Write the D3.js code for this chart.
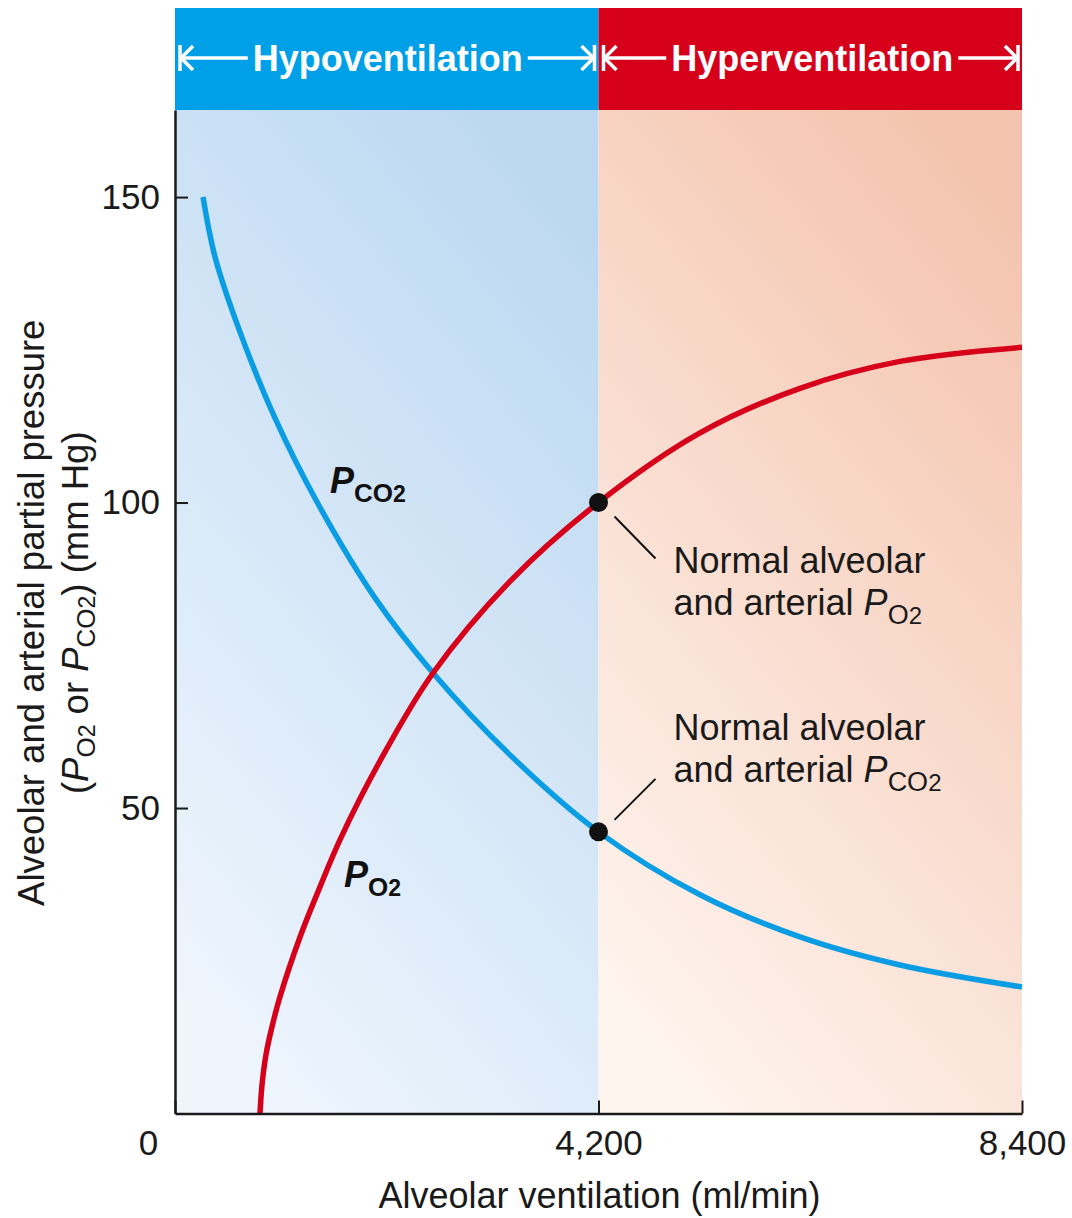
<!DOCTYPE html>
<html>
<head>
<meta charset="utf-8">
<script src="https://cdn.jsdelivr.net/npm/d3@7"></script>
<style>
  html, body { margin: 0; padding: 0; background: #ffffff; }
  svg { display: block; font-family: "Liberation Sans", Arial, Helvetica, sans-serif; }
</style>
</head>
<body>
<svg id="chart" width="1072" height="1218"></svg>
<script>
// ---------- data ----------
const xTicks = [0, 4200, 8400];
const xTickLabels = ["0", "4,200", "8,400"];
const yTicks = [50, 100, 150];
const yTickLabels = ["50", "100", "150"];

const regionNames = ["Hypoventilation", "Hyperventilation"];
const regionStart = [0, 4200];
const regionEnd = [4200, 8400];

// P_CO2 curve (blue)
const pco2X = [278, 397, 645, 992, 1418, 1983, 2559, 3322, 4200, 5207, 6198, 7190, 8400];
const pco2Y = [150, 140.2, 127.9, 113.8, 99.8, 84.4, 72.1, 58.7, 46.1, 35.8, 28.9, 24.3, 20.7];

// P_O2 curve (red)
const po2X = [843, 863, 902, 962, 1041, 1240, 1438, 1636, 2033, 2559, 3322, 4200, 5207, 6198, 7190, 8400];
const po2Y = [0, 4.7, 9.6, 14.2, 19.1, 28.9, 37.1, 44.8, 57.7, 72.1, 87.1, 100, 111.4, 118.7, 123.1, 125.4];

const normalX = [4200, 4200];
const normalY = [100, 46.1];

// ---------- layout ----------
(function () {
const svg = d3.select("#chart");
const pL = 175, pR = 1022, pT = 110, pB = 1113.5;
const x = d3.scaleLinear().domain([0, 8400]).range([pL, pR]);
const y = d3.scaleLinear().domain([0, 164.25]).range([pB, pT]);

const BLUE = "#0a9de3", RED = "#d7001b";

// gradients
const defs = svg.append("defs");
function grad(id, c0, c1) {
  const g = defs.append("linearGradient").attr("id", id)
    .attr("x1", 0.25).attr("y1", 1).attr("x2", 0.75).attr("y2", 0);
  g.append("stop").attr("offset", "0%").attr("stop-color", c0);
  g.append("stop").attr("offset", "100%").attr("stop-color", c1);
}
grad("gBlue", "#eef5fd", "#bcd8f1");
grad("gRed", "#fef4ee", "#f4c4ae");

// background regions
const bgFills = ["url(#gBlue)", "url(#gRed)"];
svg.selectAll("rect.bg").data(regionNames).join("rect")
  .attr("class", "bg")
  .attr("x", (d, i) => x(regionStart[i]))
  .attr("y", pT)
  .attr("width", (d, i) => x(regionEnd[i]) - x(regionStart[i]))
  .attr("height", pB - pT)
  .attr("fill", (d, i) => bgFills[i]);

// header bands
const headFills = ["#00a0e9", RED];
svg.selectAll("rect.head").data(regionNames).join("rect")
  .attr("class", "head")
  .attr("x", (d, i) => x(regionStart[i]))
  .attr("y", 8)
  .attr("width", (d, i) => x(regionEnd[i]) - x(regionStart[i]))
  .attr("height", pT - 8)
  .attr("fill", (d, i) => headFills[i]);

const headY = 58;
regionNames.forEach((name, i) => {
  const x0 = x(regionStart[i]), x1 = x(regionEnd[i]);
  const cx = (x0 + x1) / 2 + (i === 0 ? 1 : 2);
  const t = svg.append("text")
    .attr("x", cx).attr("y", headY + 13)
    .attr("text-anchor", "middle")
    .attr("font-size", 36).attr("font-weight", "bold")
    .attr("fill", "#ffffff")
    .text(name);
  const w = t.node().getComputedTextLength();
  const ts = cx - w / 2 - 5, te = cx + w / 2 + 5;
  const la = x0 + 5, ra = x1 - 4;
  const g = svg.append("g").attr("stroke", "#ffffff").attr("stroke-width", 3.5)
    .attr("fill", "none").attr("stroke-linecap", "butt");
  g.append("line").attr("x1", la).attr("x2", la).attr("y1", headY - 13).attr("y2", headY + 13);
  g.append("line").attr("x1", ra).attr("x2", ra).attr("y1", headY - 13).attr("y2", headY + 13);
  g.append("line").attr("x1", la).attr("x2", ts).attr("y1", headY).attr("y2", headY);
  g.append("line").attr("x1", te).attr("x2", ra).attr("y1", headY).attr("y2", headY);
  g.append("path").attr("d", `M${la + 13},${headY - 12}L${la + 1},${headY}L${la + 13},${headY + 12}`);
  g.append("path").attr("d", `M${ra - 13},${headY - 12}L${ra - 1},${headY}L${ra - 13},${headY + 12}`);
});

// curves
const line = d3.line().x(d => x(d[0])).y(d => y(d[1])).curve(d3.curveCatmullRom.alpha(0.5));
svg.append("path").datum(pco2X.map((v, i) => [v, pco2Y[i]]))
  .attr("d", line).attr("fill", "none").attr("stroke", BLUE).attr("stroke-width", 5.5);
svg.append("path").datum(po2X.map((v, i) => [v, po2Y[i]]))
  .attr("d", line).attr("fill", "none").attr("stroke", RED).attr("stroke-width", 5.5);

// axes
const xAxis = d3.axisBottom(x).tickValues(xTicks)
  .tickFormat((d, i) => xTickLabels[i]).tickSizeInner(-13).tickSizeOuter(0).tickPadding(17);
const gx = svg.append("g").attr("transform", `translate(0,${pB})`).call(xAxis);
gx.selectAll("text").attr("font-size", 35).attr("fill", "#1a1a1a")
  .attr("font-family", "'Liberation Sans', Arial, sans-serif");
gx.selectAll(".tick").each(function (d) {
  d3.select(this).select("text").attr("dx", d === 0 ? -27 : 0);
});
gx.selectAll(".tick line").attr("stroke", "#1a1a1a").attr("stroke-width", 2);
gx.select(".domain").attr("stroke", "#1a1a1a").attr("stroke-width", 2.5);

const yAxis = d3.axisLeft(y).tickValues(yTicks)
  .tickFormat((d, i) => yTickLabels[i]).tickSizeInner(-13).tickSizeOuter(0).tickPadding(15);
const gy = svg.append("g").attr("transform", `translate(${pL},0)`).call(yAxis);
gy.selectAll("text").attr("font-size", 35).attr("fill", "#1a1a1a")
  .attr("font-family", "'Liberation Sans', Arial, sans-serif");
gy.selectAll(".tick line").attr("stroke", "#1a1a1a").attr("stroke-width", 2);
gy.select(".domain").attr("stroke", "#1a1a1a").attr("stroke-width", 2.5);

// x-axis title
svg.append("text").attr("x", (pL + pR) / 2 + 1).attr("y", 1208)
  .attr("text-anchor", "middle").attr("font-size", 36).attr("fill", "#1a1a1a")
  .text("Alveolar ventilation (ml/min)");

// y-axis title (two lines)
const yt = svg.append("g").attr("transform", `translate(0,${(pT + pB) / 2 + 1}) rotate(-90)`)
  .attr("fill", "#1a1a1a").attr("font-size", 36.5);
yt.append("text").attr("x", 0).attr("y", 44).attr("text-anchor", "middle")
  .text("Alveolar and arterial partial pressure");
const l2 = yt.append("text").attr("x", 0).attr("y", 88).attr("text-anchor", "middle");
l2.append("tspan").text("(");
l2.append("tspan").attr("font-style", "italic").text("P");
l2.append("tspan").attr("font-size", 26).attr("dy", 7).text("O");
l2.append("tspan").attr("font-size", 23).text("2");
l2.append("tspan").attr("dy", -7).text(" or ");
l2.append("tspan").attr("font-style", "italic").text("P");
l2.append("tspan").attr("font-size", 26).attr("dy", 7).text("CO");
l2.append("tspan").attr("font-size", 23).text("2");
l2.append("tspan").attr("dy", -7).text(") (mm Hg)");

// normal points
svg.selectAll("circle.norm").data(normalX).join("circle")
  .attr("class", "norm")
  .attr("cx", d => x(d)).attr("cy", (d, i) => y(normalY[i]))
  .attr("r", 9.5).attr("fill", "#111111");

// leader lines
svg.append("line")
  .attr("x1", x(normalX[0]) + 16).attr("y1", y(normalY[0]) + 14)
  .attr("x2", x(normalX[0]) + 57).attr("y2", y(normalY[0]) + 56)
  .attr("stroke", "#111").attr("stroke-width", 2);
svg.append("line")
  .attr("x1", x(normalX[1]) + 16).attr("y1", y(normalY[1]) - 12)
  .attr("x2", x(normalX[1]) + 57).attr("y2", y(normalY[1]) - 53)
  .attr("stroke", "#111").attr("stroke-width", 2);

// annotations
function annot(ax, ay, sub) {
  const g = svg.append("g").attr("fill", "#1a1a1a").attr("font-size", 36);
  g.append("text").attr("x", ax).attr("y", ay).text("Normal alveolar");
  const t = g.append("text").attr("x", ax).attr("y", ay + 42);
  t.append("tspan").text("and arterial ");
  t.append("tspan").attr("font-style", "italic").text("P");
  t.append("tspan").attr("font-size", 27).attr("dy", 9).text(sub);
  t.append("tspan").attr("font-size", 24).text("2");
}
annot(x(normalX[0]) + 75, y(normalY[0]) + 70, "O");
annot(x(normalX[1]) + 75, y(normalY[1]) - 92, "CO");

// curve labels
function curveLabel(vx, vy, sub) {
  const t = svg.append("text").attr("x", x(vx)).attr("y", y(vy))
    .attr("font-weight", "bold").attr("fill", "#111").attr("font-size", 36);
  t.append("tspan").attr("font-style", "italic").text("P");
  t.append("tspan").attr("font-size", 26).attr("dy", 9).text(sub);
  t.append("tspan").attr("font-size", 23).text("2");
}
curveLabel(1537, 101.6, "CO");
curveLabel(1676, 37.0, "O");
})();
</script>
</body>
</html>
